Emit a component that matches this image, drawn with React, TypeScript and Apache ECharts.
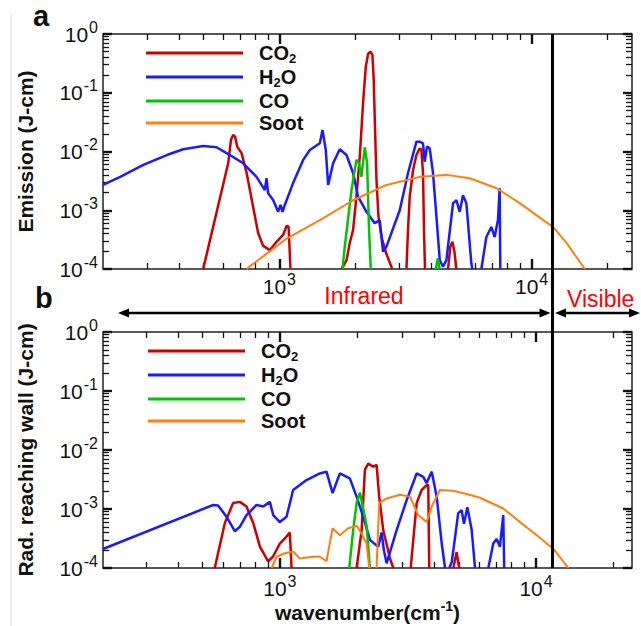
import React, { useEffect, useRef } from 'react';
import * as echarts from 'echarts';

type Pt = [number, number];

const FONT = "'Liberation Sans', Arial, Helvetica, sans-serif";
const SPECIES = ['CO2', 'H2O', 'CO', 'Soot'];
const COLORS = ['#cc0000', '#1a1aff', '#00c400', '#ff7f0e'];

const X_RANGE_A = [200, 25000];
const X_RANGE_B = [204, 23700];
const Y_RANGE = [1e-4, 1];
const VISIBLE_EDGE = 12100;

const X_MINOR = [300, 400, 500, 600, 700, 800, 900, 2000, 3000, 4000, 5000, 6000, 7000, 8000, 9000, 20000];
const X_MAJOR = [1000, 10000];
const Y_MAJOR = [1e-4, 1e-3, 1e-2, 1e-1, 1];
const Y_MINOR = [
  2e-4, 3e-4, 4e-4, 5e-4, 6e-4, 7e-4, 8e-4, 9e-4,
  2e-3, 3e-3, 4e-3, 5e-3, 6e-3, 7e-3, 8e-3, 9e-3,
  2e-2, 3e-2, 4e-2, 5e-2, 6e-2, 7e-2, 8e-2, 9e-2,
  0.2, 0.3, 0.4, 0.5, 0.6, 0.7, 0.8, 0.9,
];

const co2A: Pt[][] = [
  [[499, 1e-4], [627, 0.0063], [643, 0.0157], [656, 0.0191], [668, 0.0179], [681, 0.0121], [709, 0.0093], [742, 0.0043], [787, 0.00115], [824, 0.00041], [863, 0.000247], [917, 0.00021], [975, 0.00029], [1035, 0.00038], [1068, 0.00054], [1088, 0.00053], [1107, 1e-4]],
  [[1763, 1e-4], [1846, 0.00014], [1901, 0.000275], [1960, 0.00046], [2021, 0.0017], [2084, 0.0082], [2147, 0.066], [2201, 0.278], [2247, 0.457], [2297, 0.5], [2339, 0.44], [2367, 0.165], [2396, 0.023], [2427, 0.0033], [2472, 0.00078], [2541, 0.00035], [2653, 0.000185], [2803, 1e-4]],
  [[3190, 1e-4], [3236, 0.00046], [3287, 0.0017], [3388, 0.0048], [3494, 0.0087], [3601, 0.0113], [3657, 0.0107], [3711, 0.0043], [3745, 0.00046], [3779, 1e-4]],
  [[4662, 1e-4], [4764, 0.00024], [4853, 0.00029], [4943, 0.0002], [5033, 1e-4]],
];
const h2oA: Pt[][] = [
  [[200, 0.0027], [234, 0.0037], [289, 0.0059], [358, 0.0087], [416, 0.0109], [499, 0.0124], [564, 0.0118], [637, 0.0087], [719, 0.0063], [812, 0.0037], [876, 0.0022], [890, 0.0035], [903, 0.00194], [945, 0.00149], [989, 0.00094], [1011, 0.00123], [1030, 0.00094], [1051, 0.00123], [1134, 0.0029], [1243, 0.0072], [1321, 0.0106], [1447, 0.0138], [1483, 0.0232], [1528, 0.0106], [1561, 0.0027], [1634, 0.0063], [1736, 0.0109], [1846, 0.0087], [1960, 0.0043], [2052, 0.0017], [2215, 0.00094], [2389, 0.0006], [2500, 0.00068], [2577, 0.000197], [2658, 0.00024], [3001, 0.001], [3237, 0.0043], [3495, 0.0147], [3601, 0.0147], [3711, 0.0138], [3769, 0.0067], [3849, 0.0121], [3945, 0.0113], [4066, 0.0043], [4195, 0.00078], [4324, 0.000142], [4454, 0.00011], [4595, 0.000142], [4880, 0.00131], [5033, 0.00149], [5188, 0.00094], [5346, 0.0018], [5514, 0.00131], [5769, 0.000125], [5822, 1e-4]],
  [[6322, 1e-4], [6616, 0.00035], [6925, 0.00052], [7138, 0.00035], [7356, 0.00068], [7470, 0.00237], [7516, 1e-4]],
];
const coA: Pt[][] = [
  [[1780, 1e-4], [1817, 0.00024], [1932, 0.0022], [2021, 0.0072], [2070, 0.0063], [2115, 0.0037], [2181, 0.0118], [2228, 0.0063], [2268, 0.00046], [2304, 1e-4]],
  [[4170, 1e-4], [4250, 0.000152], [4320, 1e-4]],
];
const sootA: Pt[][] = [
  [[741, 1e-4], [1069, 0.00033], [1448, 0.00068], [1963, 0.00148], [2660, 0.0027], [3606, 0.0037], [4600, 0.004], [5690, 0.0035], [7260, 0.00237], [8980, 0.00132], [11120, 0.00068], [12170, 0.00052], [13770, 0.000275], [16260, 1e-4]],
];

const co2B: Pt[][] = [
  [[557, 1e-4], [610, 0.00058], [657, 0.00126], [698, 0.00132], [741, 0.0011], [787, 0.00058], [836, 0.00023], [900, 0.00013], [942, 0.000158], [1000, 0.00026], [1062, 0.00034], [1094, 0.0004], [1111, 1e-4]],
  [[1994, 1e-4], [2086, 0.00044], [2148, 0.0046], [2213, 0.0059], [2314, 0.0052], [2386, 0.0056], [2442, 0.00162], [2533, 0.00044], [2691, 0.000145], [2773, 1e-4]],
  [[3243, 1e-4], [3420, 0.00126], [3577, 0.0021], [3742, 0.00255], [3796, 0.00255], [3830, 1e-4]],
  [[4755, 1e-4], [4900, 0.000186], [5012, 1e-4]],
];
const h2oB: Pt[][] = [
  [[204, 0.00021], [549, 0.00117], [574, 0.00115], [619, 0.00074], [667, 0.00042], [698, 0.0005], [741, 0.00079], [811, 0.00117], [861, 0.0011], [914, 0.00132], [942, 0.00079], [1000, 0.0006], [1062, 0.00074], [1127, 0.0021], [1271, 0.0031], [1433, 0.004], [1521, 0.0043], [1606, 0.00186], [1715, 0.004], [1875, 0.0033], [1994, 0.00162], [2115, 0.00074], [2247, 0.0003], [2422, 0.00023], [2496, 0.0004], [2548, 0.0002], [2611, 0.00012], [2857, 0.00044], [3126, 0.00141], [3420, 0.004], [3630, 0.0035], [3742, 0.00275], [3917, 0.0043], [4095, 0.00162], [4286, 0.00026], [4415, 1e-4]],
  [[4586, 1e-4], [4690, 0.000126], [4970, 0.00085], [5125, 0.00095], [5234, 0.00056], [5395, 0.00107], [5610, 0.00044], [5780, 1e-4]],
  [[6515, 1e-4], [6810, 0.00026], [7020, 0.00031], [7230, 0.00023], [7450, 0.00079], [7515, 1e-4]],
];
const coB: Pt[][] = [
  [[1866, 1e-4], [1933, 0.00044], [1994, 0.00126], [2054, 0.0019], [2115, 0.00102], [2181, 0.00052], [2247, 1e-4]],
];
const sootB: Pt[][] = [
  [[929, 1e-4], [971, 0.000155], [1046, 0.000178], [1127, 0.00019], [1197, 0.000145], [1349, 0.000155], [1433, 0.000155], [1521, 0.00013], [1606, 0.00047], [1715, 0.00036], [1848, 0.00047], [1994, 0.00052], [2086, 0.00038], [2181, 0.00026], [2234, 1e-4]],
  [[2386, 1e-4], [2442, 0.00126], [2611, 0.00151], [2943, 0.00174], [3221, 0.00162], [3469, 0.00079], [3742, 0.0006], [3917, 0.0011], [4217, 0.0021], [4755, 0.00204], [5358, 0.0018], [6040, 0.00155], [7450, 0.00102], [8660, 0.0006], [10070, 0.00036], [11700, 0.00021], [13370, 1e-4]],
];

const PANEL_A = [co2A, h2oA, coA, sootA];
const PANEL_B = [co2B, h2oB, coB, sootB];

function joinSegments(segs: Pt[][]) {
  const out: any[] = [];
  segs.forEach((s, i) => {
    if (i > 0) out.push(['-', '-']);
    s.forEach((p) => out.push(p));
  });
  return out;
}

const powLabel = (v: number) => {
  const l = Math.log10(v);
  const e = Math.round(l);
  if (Math.abs(l - e) > 1e-6) return '';
  return `{b|10}{s|${e}}`;
};

const RICH_POW = {
  b: { fontSize: 21, lineHeight: 30, fontFamily: FONT, color: '#111' },
  s: { fontSize: 16, lineHeight: 14, verticalAlign: 'top', fontFamily: FONT, color: '#111', padding: [0, 0, 0, 1] },
};

const legendFormatter = (name: string) => {
  if (name === 'CO2') return '{p|CO}{s|2}';
  if (name === 'H2O') return '{p|H}{s|2}{t|O}';
  return `{p|${name}}`;
};
const LEGEND_RICH = {
  p: { fontSize: 20, fontWeight: 'bold', lineHeight: 24, fontFamily: FONT, color: '#111', padding: [0, 0, 0, 11] },
  t: { fontSize: 20, fontWeight: 'bold', lineHeight: 24, fontFamily: FONT, color: '#111' },
  s: { fontSize: 13, fontWeight: 'bold', lineHeight: 10, verticalAlign: 'bottom', fontFamily: FONT, color: '#111' },
};

function lineSeries(gi: number, segsList: Pt[][][]) {
  return segsList.map((segs, i) => ({
    type: 'line',
    name: SPECIES[i],
    xAxisIndex: gi,
    yAxisIndex: gi,
    data: joinSegments(segs),
    showSymbol: false,
    symbol: 'none',
    connectNulls: false,
    itemStyle: { color: COLORS[i] },
    lineStyle: { color: COLORS[i], width: i === 3 ? 2 : 2.5 },
    z: 3,
  }));
}

function legend(left: number, top: number) {
  return {
    data: SPECIES, orient: 'vertical', left, top, padding: 0, itemGap: 2,
    itemWidth: 97, itemHeight: 3, icon: 'rect', selectedMode: false,
    formatter: legendFormatter, textStyle: { rich: LEGEND_RICH },
  };
}

const HIDDEN = {
  axisLine: { show: false, onZero: false },
  axisTick: { show: false },
  splitLine: { show: false },
};

function xAxis(gi: number, xr: number[], margin: number, extra: any = {}) {
  return {
    gridIndex: gi, type: 'log', logBase: 10, min: xr[0], max: xr[1], position: 'bottom',
    ...HIDDEN,
    axisLabel: { margin, formatter: powLabel, rich: RICH_POW },
    ...extra,
  };
}

function yAxis(gi: number, name: string) {
  return {
    gridIndex: gi, type: 'log', logBase: 10, min: Y_RANGE[0], max: Y_RANGE[1], position: 'left',
    ...HIDDEN,
    axisLabel: { margin: 5, formatter: powLabel, rich: RICH_POW },
    name, nameLocation: 'middle', nameGap: 67,
    nameTextStyle: { fontSize: 21, fontWeight: 'bold', fontFamily: FONT, color: '#111' },
  };
}

// linear axes laid over each log axis (in log10 units) that carry the tick marks
function tickAxis(gi: number, range: number[], position: string, values: number[], major: boolean, isX: boolean) {
  return {
    gridIndex: gi,
    type: 'value',
    position,
    min: Math.log10(range[0]),
    max: Math.log10(range[1]),
    axisLine: { show: false, onZero: false },
    splitLine: { show: false },
    axisLabel: { show: false },
    axisTick: {
      show: true,
      inside: true,
      length: major ? (isX ? 10 : 9) : 6,
      lineStyle: { color: '#111', width: major ? 2.4 : 1.3 },
      customValues: values.map((v) => Math.log10(v)),
    },
    silent: true,
  };
}

export default function App() {
  const ref = useRef<HTMLDivElement>(null);
  useEffect(() => {
    const chart = echarts.init(ref.current!, undefined, { renderer: 'svg' });
    const xRanges = [X_RANGE_A, X_RANGE_B];
    const xTickAxes: any[] = [];
    const yTickAxes: any[] = [];
    [0, 1].forEach((gi) => {
      ['bottom', 'top'].forEach((pos) => {
        xTickAxes.push(tickAxis(gi, xRanges[gi], pos, X_MINOR, false, true));
        xTickAxes.push(tickAxis(gi, xRanges[gi], pos, X_MAJOR, true, true));
      });
      ['left', 'right'].forEach((pos) => {
        yTickAxes.push(tickAxis(gi, Y_RANGE, pos, Y_MINOR, false, false));
        yTickAxes.push(tickAxis(gi, Y_RANGE, pos, Y_MAJOR, true, false));
      });
    });
    const option: any = {
      animation: false,
      backgroundColor: '#fff',
      textStyle: { fontFamily: FONT },
      grid: [
        { left: 103, top: 34, width: 529, height: 235, show: true, borderColor: '#222', borderWidth: 1.5, backgroundColor: 'transparent' },
        { left: 103, top: 332, width: 529, height: 236, show: true, borderColor: '#222', borderWidth: 1.5, backgroundColor: 'transparent' },
      ],
      xAxis: [
        xAxis(0, X_RANGE_A, 2),
        xAxis(1, X_RANGE_B, 5, {
          name: '{t|wavenumber(cm}{s|-1}{t|)}',
          nameLocation: 'middle',
          nameGap: 29,
          nameTextStyle: {
            rich: {
              t: { fontSize: 21, fontWeight: 'bold', lineHeight: 26, fontFamily: FONT, color: '#111' },
              s: { fontSize: 14, fontWeight: 'bold', lineHeight: 12, verticalAlign: 'top', fontFamily: FONT, color: '#111' },
            },
          },
        }),
        ...xTickAxes,
      ],
      yAxis: [yAxis(0, 'Emission (J-cm)'), yAxis(1, 'Rad. reaching wall (J-cm)'), ...yTickAxes],
      legend: [legend(146, 43), legend(148, 341)],
      series: [...lineSeries(0, PANEL_A), ...lineSeries(1, PANEL_B)],
    };
    chart.setOption(option);

    const px = (gi: number, w: number) => Number(chart.convertToPixel({ xAxisIndex: gi }, w));
    const py = (gi: number, v: number) => Number(chart.convertToPixel({ yAxisIndex: gi }, v));
    const xv = px(0, VISIBLE_EDGE);
    const yTop = py(0, Y_RANGE[1]);
    const yBot = py(1, Y_RANGE[0]);
    const ya = 313;
    const head = (tip: number, dir: number) => ({
      type: 'polygon',
      shape: { points: [[tip, ya], [tip - dir * 11, ya - 4.5], [tip - dir * 11, ya + 4.5]] },
      style: { fill: '#000' },
      z: 100,
    });
    const lineStyle = { stroke: '#000', lineWidth: 2.5 };
    chart.setOption({
      graphic: [
        { type: 'line', shape: { x1: 11, y1: 14, x2: 11, y2: 626 }, style: { stroke: '#dcdcdc', lineWidth: 1 }, z: 1 },
        { type: 'line', shape: { x1: xv, y1: yTop, x2: xv, y2: yBot }, style: { stroke: '#000', lineWidth: 3 }, z: 100 },
        { type: 'line', shape: { x1: 124, y1: ya, x2: xv - 8, y2: ya }, style: lineStyle, z: 100 },
        head(118, -1),
        head(xv - 2, 1),
        { type: 'line', shape: { x1: xv + 8, y1: ya, x2: 634, y2: ya }, style: lineStyle, z: 100 },
        head(xv + 2.5, -1),
        head(640, 1),
        { type: 'text', style: { text: 'Infrared', x: 364, y: 296, fill: '#ff0000', font: `23px ${FONT}`, textAlign: 'center', textVerticalAlign: 'middle' }, z: 100 },
        { type: 'text', style: { text: 'Visible', x: 567, y: 299, fill: '#ff0000', font: `23px ${FONT}`, textAlign: 'left', textVerticalAlign: 'middle' }, z: 100 },
        { type: 'text', style: { text: 'a', x: 33, y: 16, fill: '#111', font: `bold 29px ${FONT}`, textAlign: 'left', textVerticalAlign: 'middle' }, z: 100 },
        { type: 'text', style: { text: 'b', x: 35, y: 298, fill: '#111', font: `bold 29px ${FONT}`, textAlign: 'left', textVerticalAlign: 'middle' }, z: 100 },
      ],
    });
    return () => chart.dispose();
  }, []);
  return <div ref={ref} style={{ position: 'fixed', left: 0, top: 0, width: 641, height: 626, background: '#fff' }} />;
}
